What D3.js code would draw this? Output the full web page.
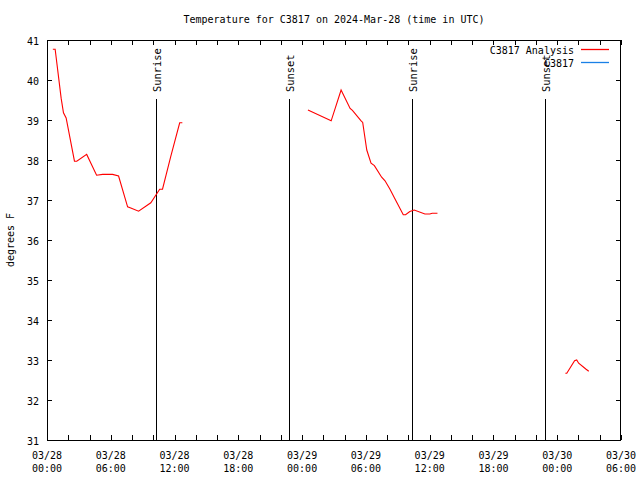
<!DOCTYPE html>
<html>
<head>
<meta charset="utf-8">
<script src="https://cdn.jsdelivr.net/npm/d3@7"></script>
<style>
  body { margin: 0; background: #fff; }
  svg { display: block; }
  text { font-family: "DejaVu Sans Mono", "Liberation Mono", monospace; font-size: 10px; fill: #000; }
</style>
</head>
<body>
<svg id="chart" width="640" height="480"></svg>
<script>
// ---- data ----
const titleText = "Temperature for C3817 on 2024-Mar-28 (time in UTC)";
const yLabelText = "degrees F";
const seriesNames = ["C3817 Analysis", "C3817"];
const seriesColors = ["#ff0000", "#1a80e6"];

// analysis series (null = gap)
const analysisTimes = [
  "2024-03-28T00:33","2024-03-28T00:46","2024-03-28T01:20","2024-03-28T01:33","2024-03-28T01:48",
  "2024-03-28T02:35","2024-03-28T02:48","2024-03-28T03:44","2024-03-28T04:40","2024-03-28T05:14",
  "2024-03-28T06:10","2024-03-28T06:44","2024-03-28T07:35","2024-03-28T07:53","2024-03-28T08:37",
  "2024-03-28T09:46","2024-03-28T10:14","2024-03-28T10:36","2024-03-28T10:52","2024-03-28T11:38",
  "2024-03-28T12:29","2024-03-28T12:44",
  "2024-03-28T18:00",
  "2024-03-29T00:33","2024-03-29T02:44","2024-03-29T03:40","2024-03-29T04:31","2024-03-29T04:44",
  "2024-03-29T05:33","2024-03-29T05:42","2024-03-29T06:05","2024-03-29T06:29","2024-03-29T06:48",
  "2024-03-29T07:29","2024-03-29T07:48","2024-03-29T08:16","2024-03-29T08:40","2024-03-29T09:31",
  "2024-03-29T09:44","2024-03-29T10:08","2024-03-29T10:33","2024-03-29T11:33","2024-03-29T12:01",
  "2024-03-29T12:14","2024-03-29T12:44",
  "2024-03-29T18:00",
  "2024-03-30T00:46","2024-03-30T00:54","2024-03-30T01:38","2024-03-30T01:50","2024-03-30T02:01",
  "2024-03-30T02:43","2024-03-30T02:58"
];
const analysisTemps = [
  40.77, 40.77, 39.54, 39.18, 39.05,
  37.97, 37.97, 38.14, 37.62, 37.64,
  37.64, 37.60, 36.83, 36.80, 36.72,
  36.93, 37.12, 37.27, 37.27, 38.08,
  38.93, 38.93,
  null,
  39.25, 38.98, 39.75, 39.29, 39.24,
  38.98, 38.94, 38.25, 37.92, 37.86,
  37.57, 37.48, 37.27, 37.06, 36.63,
  36.63, 36.71, 36.75, 36.65, 36.65,
  36.67, 36.67,
  null,
  32.67, 32.67, 32.98, 33.00, 32.92,
  32.77, 32.72
];
// observation series: no data in view
const obsTimes = [];
const obsTemps = [];

const sunTimes = ["2024-03-28T10:15","2024-03-28T22:46","2024-03-29T10:20","2024-03-29T22:51"];
const sunLabels = ["Sunrise","Sunset","Sunrise","Sunset"];

const xStart = "2024-03-28T00:00", xEnd = "2024-03-30T06:00";
const yMin = 31, yMax = 41;
const yTicks = [31,32,33,34,35,36,37,38,39,40,41];

// ---- drawing ----
const parse = d3.utcParse("%Y-%m-%dT%H:%M");
const svg = d3.select("#chart");
const L = 47, R = 621, T = 40, B = 440;

const x = d3.scaleUtc().domain([parse(xStart), parse(xEnd)]).range([L, R]);
const y = d3.scaleLinear().domain([yMin, yMax]).range([B, T]);

// title
svg.append("text").attr("x", (L + R) / 2).attr("y", 23).attr("text-anchor", "middle").text(titleText);

// y label
svg.append("text").attr("transform", "translate(14,240) rotate(-90)")
  .attr("text-anchor", "middle").text(yLabelText);

const gAx = svg.append("g").attr("shape-rendering", "crispEdges");

// ticks
const xMinor = d3.utcHour.every(2).range(parse(xStart), d3.utcMinute.offset(parse(xEnd), 1));
xMinor.forEach(t => {
  const px = Math.round(x(t)) + 0.5;
  gAx.append("line").attr("x1", px).attr("x2", px).attr("y1", B).attr("y2", B - 5).attr("stroke", "#000");
  gAx.append("line").attr("x1", px).attr("x2", px).attr("y1", T).attr("y2", T + 5).attr("stroke", "#000");
});
yTicks.forEach(v => {
  const py = Math.round(y(v)) + 0.5;
  gAx.append("line").attr("x1", L).attr("x2", L + 5).attr("y1", py).attr("y2", py).attr("stroke", "#000");
  gAx.append("line").attr("x1", R).attr("x2", R - 5).attr("y1", py).attr("y2", py).attr("stroke", "#000");
  svg.append("text").attr("x", 39).attr("y", py + 4).attr("text-anchor", "end").text(v);
});

// x labels every 6h
const fmtD = d3.utcFormat("%m/%d"), fmtT = d3.utcFormat("%H:%M");
d3.utcHour.every(6).range(parse(xStart), d3.utcMinute.offset(parse(xEnd), 1)).forEach(t => {
  const px = x(t);
  svg.append("text").attr("x", px).attr("y", 459).attr("text-anchor", "middle").text(fmtD(t));
  svg.append("text").attr("x", px).attr("y", 472).attr("text-anchor", "middle").text(fmtT(t));
});

// border
gAx.append("rect").attr("x", L + 0.5).attr("y", T + 0.5).attr("width", R - L - 1).attr("height", B - T)
  .attr("fill", "none").attr("stroke", "#000");

// sun lines
sunTimes.forEach((s, i) => {
  const px = Math.round(x(parse(s))) + 0.5;
  gAx.append("line").attr("x1", px).attr("x2", px).attr("y1", 99).attr("y2", B).attr("stroke", "#000");
  svg.append("text").attr("transform", `translate(${px + 4},92) rotate(-90)`)
    .attr("text-anchor", "start").attr("style", "font-size:10.4px").text(sunLabels[i]);
});

// series
const analysis = analysisTimes.map((t, i) => ({ t: parse(t), v: analysisTemps[i] }));
const obs = obsTimes.map((t, i) => ({ t: parse(t), v: obsTemps[i] }));
const line = d3.line().defined(d => d.v !== null).x(d => x(d.t)).y(d => y(d.v));
svg.append("path").datum(analysis).attr("d", line).attr("fill", "none")
  .attr("stroke", seriesColors[0]).attr("stroke-width", 1.1);
svg.append("path").datum(obs).attr("d", line).attr("fill", "none")
  .attr("stroke", seriesColors[1]).attr("stroke-width", 1.1);

// legend
seriesNames.forEach((n, i) => {
  const ly = 49.5 + i * 13;
  svg.append("text").attr("x", 574).attr("y", ly + 4).attr("text-anchor", "end").text(n);
  svg.append("line").attr("x1", 581).attr("x2", 609).attr("y1", ly).attr("y2", ly)
    .attr("stroke", seriesColors[i]).attr("stroke-width", 1.3);
});
</script>
</body>
</html>
